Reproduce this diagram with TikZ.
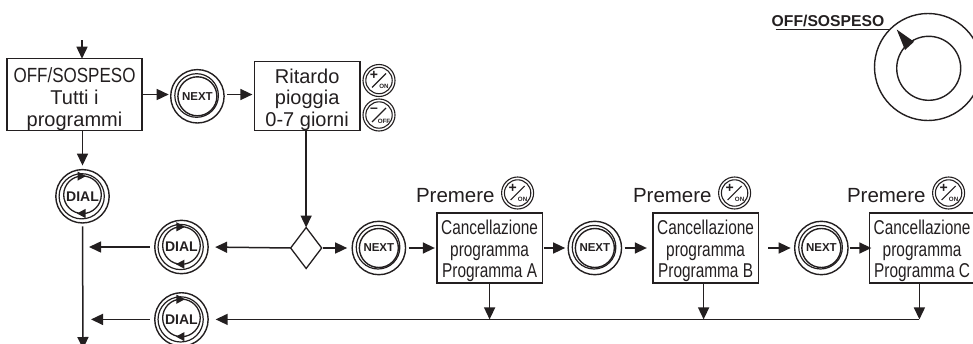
\documentclass[tikz,border=0pt]{standalone}
\usepackage{fontspec}
\setmainfont{Liberation Sans}
\newfontfamily\narrowoff[FakeStretch=0.83]{Liberation Sans}
\newfontfamily\narrowprog[FakeStretch=0.77]{Liberation Sans}
\usetikzlibrary{positioning,arrows.meta,shapes.geometric}
\definecolor{inkc}{HTML}{231F20}
\newcommand{\ppb}{path picture bounding box}
\newcommand{\topgap}[1]{\rule{0pt}{#1}}
\begin{document}
\begin{tikzpicture}[x=1pt,y=1pt,color=inkc,>={Triangle[length=12pt,width=11pt]},
                    blocknode/.style={rectangle, draw=inkc, line width=1.3pt, outer sep=0pt, inner sep=0pt, align=center},
                    offnode/.style={blocknode, minimum width=135pt, minimum height=69pt, font=\fontsize{20}{21.7}\selectfont},
                    delaynode/.style={blocknode, minimum width=105.5pt, minimum height=69pt, font=\fontsize{20}{21.7}\selectfont},
                    prognode/.style={blocknode, minimum width=105.5pt, minimum height=70pt, font=\narrowprog\fontsize{20}{21.5}\selectfont},
                    floatingnode/.style={inner sep=0pt, outer sep=0pt, font=\fontsize{20.5}{24}\selectfont},
                    roundnode/.style={circle, draw=inkc, line width=1.4pt, minimum size=53.4pt, inner sep=0pt, outer sep=0pt},
                    nextnode/.style={roundnode, font=\bfseries\fontsize{11.5}{12}\selectfont,
                        path picture={
                            \draw[line width=1.4pt] (\ppb.center) circle (19.5pt);
                            \draw[line width=1.2pt] ([shift={(-0.8,0.8)}]\ppb.center) circle (21.8pt);
                        }},
                    dialnode/.style={roundnode, font=\bfseries\fontsize{14}{15}\selectfont,
                        path picture={
                            \draw[line width=1.3pt] ([shift={(0,1.5)}]\ppb.center) circle (18.8pt);
                            \draw[line width=1.2pt] ([shift={(-0.8,0)}]\ppb.center) circle (22.6pt);
                            \fill ([shift={(3.5,20.2)}]\ppb.center) -- ([shift={(-5,24.8)}]\ppb.center) -- ([shift={(-5,15.6)}]\ppb.center) -- cycle;
                            \fill ([shift={(-5.5,-17.2)}]\ppb.center) -- ([shift={(3,-12.6)}]\ppb.center) -- ([shift={(3,-21.8)}]\ppb.center) -- cycle;
                        }},
                    presenode/.style={circle, draw=inkc, line width=1.1pt, minimum size=32pt, inner sep=0pt, outer sep=0pt,
                        path picture={
                            \draw[line width=1.1pt] (\ppb.center) circle (13.2pt);
                            \draw[line width=1.2pt] ([shift={(-7,-7)}]\ppb.center) -- ([shift={(7,7)}]\ppb.center);
                        }},
                    smallsign/.style={inner sep=0pt, font=\bfseries\fontsize{14}{14}\selectfont},
                    smalltag/.style={inner sep=0pt, font=\bfseries\fontsize{6.2}{7}\selectfont},
                    decisionnode/.style={diamond, draw=inkc, line width=1.3pt, minimum width=31pt, minimum height=41pt, inner sep=0pt, outer sep=0pt},
                    linkline/.style={line width=1.5pt,->}]
                    \useasboundingbox (0,0) rectangle (973,-343);

                    % top row
                    \node[offnode] (off) at (74.5,-94.5) {\topgap{24pt}{\narrowoff\fontsize{20.5}{21.7}\selectfont OFF/SOSPESO}\\Tutti i\\programmi};
                    \node[nextnode] (nexta) [right=28.7pt of off, yshift=-1.8pt] {NEXT};
                    \node[delaynode] (delay) [right=30.3pt of nexta] {\topgap{21pt}Ritardo\\pioggia\\0-7 giorni};
                    \node[presenode] (pluson) at (379,-80.5) {};
                    \node[smallsign] (plusona) at ([xshift=-5pt,yshift=5pt]pluson.center) {+};
                    \node[smalltag] (plusonb) at ([xshift=5pt,yshift=-6pt]pluson.center) {ON};
                    \node[presenode] (minusoff) at (379,-115) {};
                    \node[smallsign] (minusoffa) at ([xshift=-5pt,yshift=5pt]minusoff.center) {--};
                    \node[smalltag] (minusoffb) at ([xshift=5pt,yshift=-6pt]minusoff.center) {OFF};
                    \node[dialnode] (diala) [below=39.3pt of off, xshift=8pt] {DIAL};
                    \coordinate (entry) at (82,-40);
                    \coordinate (exit) at (83,-349);

                    % middle row
                    \node[decisionnode] (choice) [below=96.7pt of delay, xshift=-1pt] {};
                    \node[dialnode] (dialb) [left=82.5pt of choice, yshift=1pt] {DIAL};
                    \node[dialnode] (dialc) [below=19pt of dialb] {DIAL};
                    \node[nextnode] (nextb) [right=30.5pt of choice] {NEXT};
                    \node[prognode] (proga) [right=31.3pt of nextb] {\topgap{21pt}Cancellazione\\programma\\Programma A};
                    \node[nextnode] (nextc) [right=25.8pt of proga] {NEXT};
                    \node[prognode] (progb) [right=31.3pt of nextc] {\topgap{21pt}Cancellazione\\programma\\Programma B};
                    \node[nextnode] (nextd) [right=36.3pt of progb] {NEXT};
                    \node[prognode] (progc) [right=21.3pt of nextd] {\topgap{21pt}Cancellazione\\programma\\Programma C};

                    % press labels
                    \foreach \prog/\shiftx in {proga/28pt,progb/29pt,progc/26.5pt}{
                        \node[presenode] (\prog on) [above=4pt of \prog, xshift=\shiftx] {};
                        \node[smallsign] (\prog plus) at ([xshift=-5pt,yshift=5pt]\prog on.center) {+};
                        \node[smalltag] (\prog tag) at ([xshift=5pt,yshift=-6pt]\prog on.center) {ON};
                        \node[floatingnode] (\prog press) [left=7pt of \prog on, yshift=-3pt] {Premere};
                    }

                    % selector
                    \node[circle, draw=inkc, line width=1.4pt, minimum size=107pt, inner sep=0pt] (knob) at (928,-67) {};
                    \node[circle, draw=inkc, line width=1.4pt, minimum size=64pt, inner sep=0pt] (knobin) at (928.7,-68.3) {};
                    \fill (896.7,-29.5) -- (905,-50) -- (914,-41.7) -- cycle;
                    \node[inner sep=0pt, anchor=base, font=\bfseries\fontsize{15.7}{18}\selectfont] (knoblabel) at (828,-26.7) {OFF/SOSPESO};
                    \draw[line width=1.2pt] ([xshift=4pt,yshift=-2.8pt]knoblabel.base west) -- ([xshift=5pt,yshift=-2.8pt]knoblabel.base east);

                    % connectors
                    \draw[linkline] (entry) -- (entry |- off.north);
                    \draw[linkline,shorten >=4pt] (off.south -| diala.north) -- (diala.north);
                    \draw[linkline,shorten >=2pt] (off.east) -- (off.east -| nexta.west);
                    \draw[linkline,shorten <=3pt,shorten >=2pt] (nexta.east |- off.east) -- (off.east -| delay.west);
                    \draw[linkline] (delay.south -| choice.north) -- (choice.north);
                    \draw[linkline,shorten <=3.3pt] (diala.south) -- (exit);
                    \draw[linkline,shorten >=7pt] (choice.west) -- (dialb.east);
                    \draw[linkline,shorten <=5pt,shorten >=6pt] (dialb.west) -- (dialb.west -| exit);
                    \draw[linkline,shorten <=5pt,shorten >=8pt] (dialc.west) -- (dialc.west -| exit);
                    \draw[linkline,shorten <=1pt,shorten >=5pt] (choice.east) -- (nextb.west);
                    \draw[linkline,shorten <=3pt,shorten >=2pt] (nextb.east) -- (proga.west);
                    \draw[linkline,shorten <=1.5pt,shorten >=3pt] (proga.east) -- (nextc.west);
                    \draw[linkline,shorten <=3pt,shorten >=6pt] (nextc.east) -- (progb.west);
                    \draw[linkline,shorten <=10pt,shorten >=4pt] (progb.east) -- (nextd.west);
                    \draw[linkline,shorten <=1.5pt,shorten >=-2pt] (nextd.east) -- (progc.west);
                    \draw[linkline] (proga.south) -- (proga.south |- dialc.east);
                    \draw[linkline] ([xshift=-2pt]progb.south) -- ([xshift=-2pt]progb.south |- dialc.east);
                    \draw[linkline] ([xshift=-2.7pt]progc.south) -- ([xshift=-2.7pt]progc.south |- dialc.east);
                    \draw[linkline,shorten >=7.5pt] ([xshift=-2.7pt]progc.south |- dialc.east) -- (dialc.east);
                \end{tikzpicture}
\end{document}
